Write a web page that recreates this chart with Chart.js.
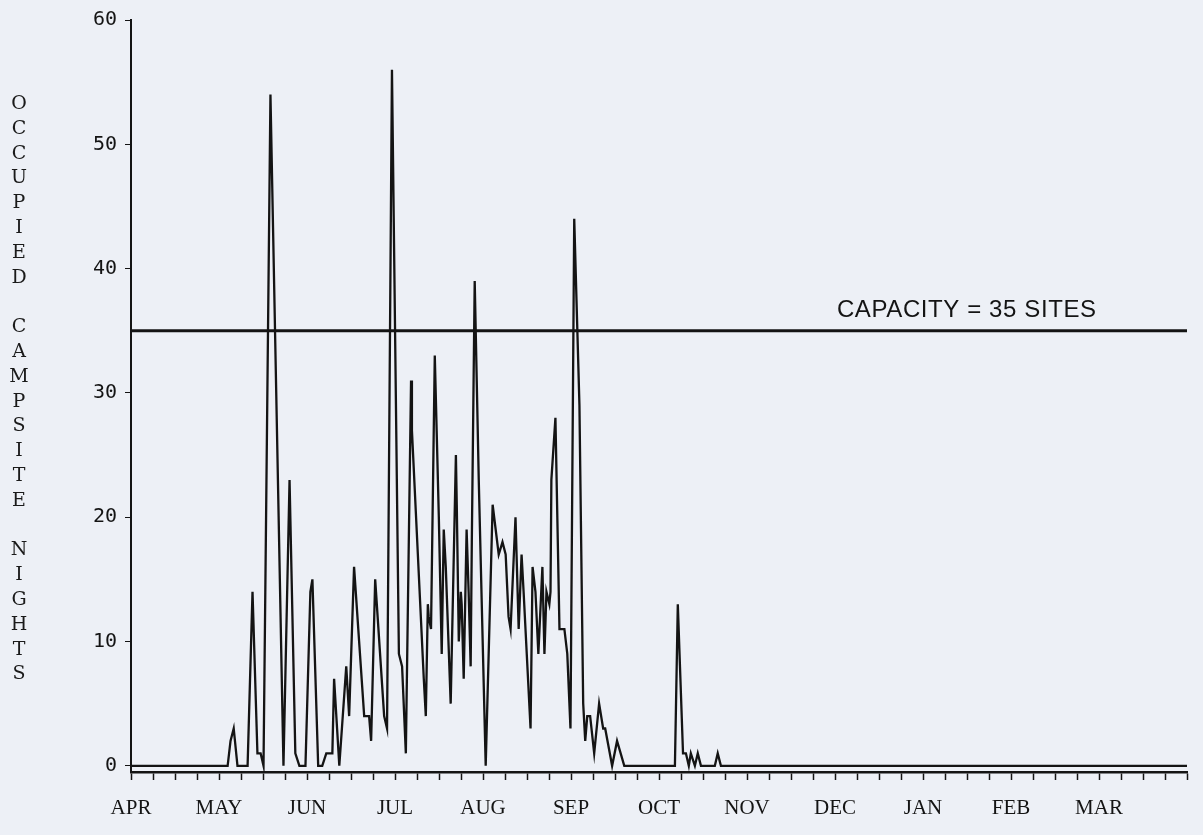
<!DOCTYPE html>
<html>
<head>
<meta charset="utf-8">
<script src="https://cdn.jsdelivr.net/npm/chart.js@4"></script>
<style>
  html, body { margin: 0; padding: 0; background: #edf0f6; }
  #wrap { position: relative; width: 1203px; height: 835px; }
  #c { position: absolute; left: 0; top: 0; }
  #ytitle { position: absolute; left: 8px; top: 90px; width: 22px; color: #1a1a1a;
            font: 19px "DejaVu Serif", serif; text-align: center; }
  #ytitle div { height: 24.8px; line-height: 24.8px; }
</style>
</head>
<body>
<div id="wrap">
  <canvas id="c" width="1203" height="835"></canvas>
  <div id="ytitle"></div>
</div>
<script>
const months = ["APR", "MAY", "JUN", "JUL", "AUG", "SEP", "OCT", "NOV", "DEC", "JAN", "FEB", "MAR"];
const yTicks = [0, 10, 20, 30, 40, 50, 60];
const capacity = 35;
const capacityLabel = "CAPACITY = 35 SITES";
const yTitle = "OCCUPIED CAMPSITE NIGHTS";

// day of the season (0 = 1 April) at each turn of the line
const days = [0, 33.4, 34.4, 35.5, 36.8, 40.3, 42.0, 43.7, 44.8, 45.8,
  48.2, 52.7, 54.8, 56.8, 58.2, 60.3, 62.0, 62.7, 64.7, 66.1,
  67.5, 69.6, 70.2, 72.0, 74.4, 75.4, 77.1, 80.6, 82.3, 83.0,
  84.4, 87.5, 88.5, 90.2, 92.6, 93.7, 95.0, 96.8, 97.1, 101.2,
  101.9, 102.6, 102.9, 103.7, 105.0, 106.4, 107.4, 108.1, 108.8, 110.5,
  112.3, 112.6, 113.3, 114.0, 114.3, 115.0, 116.0, 116.7, 117.4, 117.8,
  118.8, 120.2, 122.6, 125.0, 127.1, 128.4, 129.5, 130.5, 131.2, 132.9,
  134.0, 135.0, 135.7, 138.1, 138.8, 139.8, 140.8, 142.2, 142.9, 143.6,
  144.6, 145.0, 145.3, 146.7, 148.1, 149.8, 150.8, 151.9, 153.2, 155.0,
  156.3, 157.0, 157.7, 158.7, 160.1, 161.8, 163.2, 163.9, 166.3, 168.0,
  170.5, 188.0, 189.0, 190.8, 191.8, 192.8, 193.5, 194.9, 195.9, 197.0,
  201.8, 202.8, 203.9, 365];
const occupied = [0, 0, 2, 3, 0, 0, 14, 1, 1, 0,
  54, 0, 23, 1, 0, 0, 14, 15, 0, 0,
  1, 1, 7, 0, 8, 4, 16, 4, 4, 2,
  15, 4, 3, 56, 9, 8, 1, 31, 27, 7,
  4, 13, 12, 11, 33, 20, 9, 19, 16, 5,
  25, 21, 10, 14, 13, 7, 19, 14, 8, 18,
  39, 23, 0, 21, 17, 18, 17, 12, 11, 20,
  11, 17, 14, 3, 16, 14, 9, 16, 9, 14,
  13, 14, 23, 28, 11, 11, 9, 3, 44, 29,
  5, 2, 4, 4, 1, 5, 3, 3, 0, 2,
  0, 0, 13, 1, 1, 0, 1, 0, 1, 0,
  0, 1, 0, 0];

// stacked letters for the y title
const yt = document.getElementById("ytitle");
for (const ch of yTitle) {
  const d = document.createElement("div");
  d.textContent = ch === " " ? "\u00a0" : ch;
  yt.appendChild(d);
}

const monthLen = 365 / months.length;
const ink = "#141414";

const capacityText = {
  id: "capacityText",
  afterDatasetsDraw(chart) {
    const { ctx, scales: { x, y } } = chart;
    ctx.save();
    ctx.font = '24px "Liberation Sans"';
    ctx.letterSpacing = "0.6px";
    ctx.fillStyle = ink;
    ctx.fillText(capacityLabel, x.getPixelForValue(244), y.getPixelForValue(capacity) - 14);
    ctx.restore();
  },
};

new Chart(document.getElementById("c"), {
  type: "line",
  data: {
    datasets: [
      {
        data: days.map((d, i) => ({ x: d, y: occupied[i] })),
        borderColor: ink,
        borderWidth: 2.3,
        pointRadius: 0,
        tension: 0,
      },
      {
        data: [{ x: 0, y: capacity }, { x: 365, y: capacity }],
        borderColor: ink,
        borderWidth: 3,
        pointRadius: 0,
      },
    ],
  },
  options: {
    responsive: false,
    animation: false,
    devicePixelRatio: 1,
    layout: { padding: { top: 19, right: 12, left: 0, bottom: 0 } },
    plugins: { legend: { display: false }, tooltip: { enabled: false } },
    scales: {
      x: {
        type: "linear",
        min: 0,
        max: 365,
        afterBuildTicks(s) {
          s.ticks = [];
          for (let i = 0; i <= months.length * 4; i++) s.ticks.push({ value: (i * monthLen) / 4 });
        },
        afterFit(s) { s.height = 63; },
        grid: { drawOnChartArea: false, tickLength: 8, tickColor: ink, tickWidth: 1.5 },
        border: { color: ink, width: 2.5 },
        ticks: {
          autoSkip: false,
          maxRotation: 0,
          padding: 16,
          color: ink,
          font: { family: '"Liberation Serif"', size: 21 },
          callback: (v, i) => (i % 4 === 0 ? months[i / 4] || "" : ""),
        },
      },
      y: {
        min: -0.5,
        max: 60,
        afterBuildTicks(s) { s.ticks = yTicks.map((v) => ({ value: v })); },
        afterFit(s) { s.width = 131; },
        grid: { drawOnChartArea: false, tickLength: 6, tickColor: ink },
        border: { color: ink, width: 2 },
        ticks: { padding: 8, color: ink, font: { family: '"DejaVu Sans Mono"', size: 20 } },
      },
    },
  },
  plugins: [capacityText],
});
</script>
</body>
</html>
